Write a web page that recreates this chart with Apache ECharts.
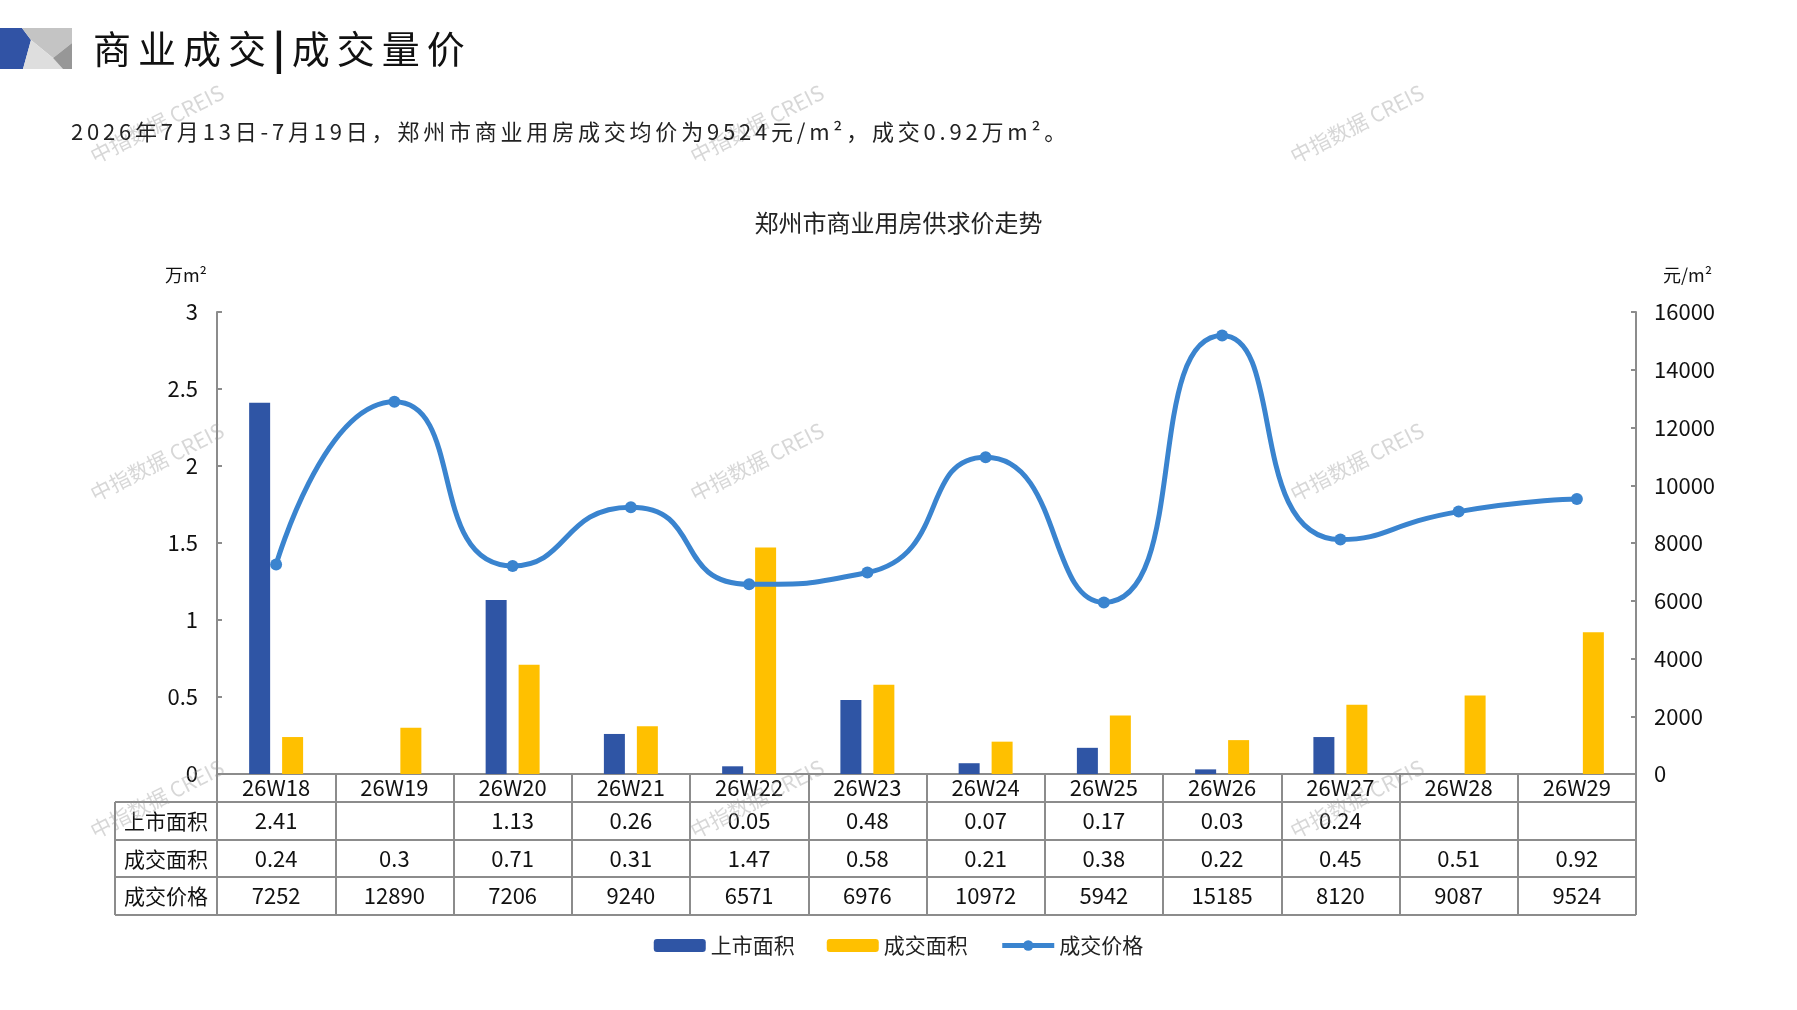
<!DOCTYPE html>
<html>
<head>
<meta charset="utf-8">
<title>商业成交|成交量价</title>
<script src="https://cdn.jsdelivr.net/npm/echarts@6/dist/echarts.min.js"></script>
<style>
  html, body { margin: 0; padding: 0; background: #fff; }
  #main { position: absolute; left: 0; top: 0; width: 1797px; height: 1010px; }
  .head { position: absolute; left: 93px; top: 21px; font-size: 38px; font-family: "Noto Sans CJK SC"; letter-spacing: 7px; color: #111; line-height: 52px; }
  .head b { font-weight: 900; }
  .sub { position: absolute; left: 71px; top: 114px; font-size: 22px; font-family: "Noto Sans CJK SC"; letter-spacing: 3.8px; color: #222; line-height: 32px; }
</style>
</head>
<body>
<div id="main"></div>
<div class="head">商业成交<b>|</b>成交量价</div>
<div class="sub">2026年7月13日-7月19日，郑州市商业用房成交均价为9524元/m²，成交0.92万m²。</div>
<script>
// 周次
const weeks = ['26W18', '26W19', '26W20', '26W21', '26W22', '26W23', '26W24', '26W25', '26W26', '26W27', '26W28', '26W29'];
// 上市面积（万m²）
const supplyArea = [2.41, null, 1.13, 0.26, 0.05, 0.48, 0.07, 0.17, 0.03, 0.24, null, null];
// 成交面积（万m²）
const dealArea = [0.24, 0.3, 0.71, 0.31, 1.47, 0.58, 0.21, 0.38, 0.22, 0.45, 0.51, 0.92];
// 成交价格（元/m²）
const dealPrice = [7252, 12890, 7206, 9240, 6571, 6976, 10972, 5942, 15185, 8120, 9087, 9524];
const rowNames = ['上市面积', '成交面积', '成交价格'];
const rowValues = [supplyArea, dealArea, dealPrice];

const cjkFont = 'Noto Sans CJK SC';
const numFont = "'Liberation Sans Narrow', 'Noto Sans CJK SC'";
const lineColor = '#8c8c8c';

// 版面
const W = 1797, H = 1010;
const gridLeft = 217, gridRight = 1636, gridTop = 312, gridBottom = 774;
const tableLeft = 115;
const rowLines = [802, 840, 877, 915];       // 表格横线
const rowCenters = [821, 859, 896];          // 三行文字中线

function fmt(v) {
  return v == null ? '' : String(v);
}

// 表格数据行：用附加的 x 轴画出每一行的数值
function rowAxis(values, centerY) {
  return {
    type: 'category',
    gridIndex: 0,
    position: 'bottom',
    offset: centerY - gridBottom - 14,
    data: weeks,
    axisLine: { show: false },
    axisTick: { show: false },
    splitLine: { show: false },
    axisLabel: {
      interval: 0,
      margin: 14,
      verticalAlign: 'middle',
      fontSize: 22,
      fontFamily: numFont,
      color: '#111',
      formatter: (v, i) => fmt(values[i])
    }
  };
}

const graphics = [];

// 左上角标志
[
  { pts: [[0, 28], [22, 28], [31, 40], [23, 69], [0, 69]], c: '#3153a5' },
  { pts: [[22, 28], [72, 28], [72, 43], [53, 58], [31, 40]], c: '#c4c4c4' },
  { pts: [[31, 40], [53, 58], [63, 69], [23, 69]], c: '#dedede' },
  { pts: [[53, 58], [72, 43], [72, 69], [63, 69]], c: '#979797' }
].forEach(p => graphics.push({ type: 'polygon', shape: { points: p.pts }, style: { fill: p.c } }));

// 表格线
rowLines.forEach(y => graphics.push({
  type: 'line', shape: { x1: tableLeft, y1: y, x2: gridRight, y2: y },
  style: { stroke: lineColor, lineWidth: 2 }
}));
graphics.push({
  type: 'line', shape: { x1: tableLeft, y1: rowLines[0], x2: tableLeft, y2: rowLines[3] },
  style: { stroke: lineColor, lineWidth: 2 }
});
rowNames.forEach((n, i) => graphics.push({
  type: 'text', x: (tableLeft + gridLeft) / 2, y: rowCenters[i],
  style: { text: n, font: '21px ' + cjkFont, fill: '#111', textAlign: 'center', textVerticalAlign: 'middle' }
}));

// 水印
[157, 757, 1357].forEach(x => [124, 462, 799].forEach(y => graphics.push({
  type: 'text', x: x, y: y, rotation: 0.47, z: 100,
  style: { text: '中指数据 CREIS', font: '21px ' + cjkFont, fill: 'rgba(150,150,150,0.38)', textAlign: 'center', textVerticalAlign: 'middle' }
})));

const chart = echarts.init(document.getElementById('main'), null, { width: W, height: H });

const option = {
  animation: false,
  backgroundColor: '#fff',
  title: {
    text: '郑州市商业用房供求价走势',
    left: 'center',
    top: 211,
    padding: 0,
    textStyle: { fontFamily: cjkFont, fontSize: 24, fontWeight: 'normal', color: '#222' }
  },
  legend: {
    top: 930,
    left: 'center',
    itemWidth: 52,
    itemHeight: 13,
    itemGap: 32,
    textStyle: { fontFamily: cjkFont, fontSize: 21, color: '#222' },
    data: [
      '上市面积',
      '成交面积',
      { name: '成交价格', lineStyle: { width: 5 } }
    ]
  },
  grid: {
    left: gridLeft,
    right: W - gridRight,
    top: gridTop,
    bottom: H - gridBottom,
    containLabel: false
  },
  xAxis: [
    {
      type: 'category',
      data: weeks,
      axisLine: { lineStyle: { color: lineColor, width: 2 } },
      axisTick: { show: true, interval: 0, inside: false, length: rowLines[3] - gridBottom, lineStyle: { color: lineColor, width: 2 } },
      axisLabel: { interval: 0, margin: 14, verticalAlign: 'middle', fontSize: 22, fontFamily: numFont, color: '#111' }
    },
    rowAxis(rowValues[0], rowCenters[0]),
    rowAxis(rowValues[1], rowCenters[1]),
    rowAxis(rowValues[2], rowCenters[2])
  ],
  yAxis: [
    {
      type: 'value',
      min: 0, max: 3, interval: 0.5,
      name: '万m²',
      nameLocation: 'end',
      nameGap: 28,
      nameTextStyle: { fontFamily: cjkFont, fontSize: 18, color: '#111', align: 'right', padding: [0, 10, 0, 0] },
      axisLine: { show: true, lineStyle: { color: lineColor, width: 2 } },
      axisTick: { show: true, inside: true, length: 5, lineStyle: { color: lineColor, width: 2 } },
      axisLabel: { margin: 19, fontSize: 22, fontFamily: numFont, color: '#111' },
      splitLine: { show: false }
    },
    {
      type: 'value',
      min: 0, max: 16000, interval: 2000,
      name: '元/m²',
      nameLocation: 'end',
      nameGap: 28,
      nameTextStyle: { fontFamily: cjkFont, fontSize: 18, color: '#111', align: 'left', padding: [0, 0, 0, 27] },
      axisLine: { show: true, lineStyle: { color: lineColor, width: 2 } },
      axisTick: { show: true, inside: true, length: 5, lineStyle: { color: lineColor, width: 2 } },
      axisLabel: { margin: 18, fontSize: 22, fontFamily: numFont, color: '#111', formatter: v => String(v) },
      splitLine: { show: false }
    }
  ],
  series: [
    {
      name: '上市面积',
      type: 'bar',
      data: supplyArea,
      barWidth: 21,
      barGap: '57%',
      itemStyle: { color: '#2f55a5' }
    },
    {
      name: '成交面积',
      type: 'bar',
      data: dealArea,
      barWidth: 21,
      barGap: '57%',
      itemStyle: { color: '#ffc000' }
    },
    {
      name: '成交价格',
      type: 'line',
      yAxisIndex: 1,
      data: dealPrice,
      smooth: 0.6,
      symbol: 'circle',
      symbolSize: 12,
      lineStyle: { color: '#3a84cf', width: 5 },
      itemStyle: { color: '#3a84cf' },
      z: 5
    }
  ],
  graphic: graphics
};

chart.setOption(option);
</script>
</body>
</html>
